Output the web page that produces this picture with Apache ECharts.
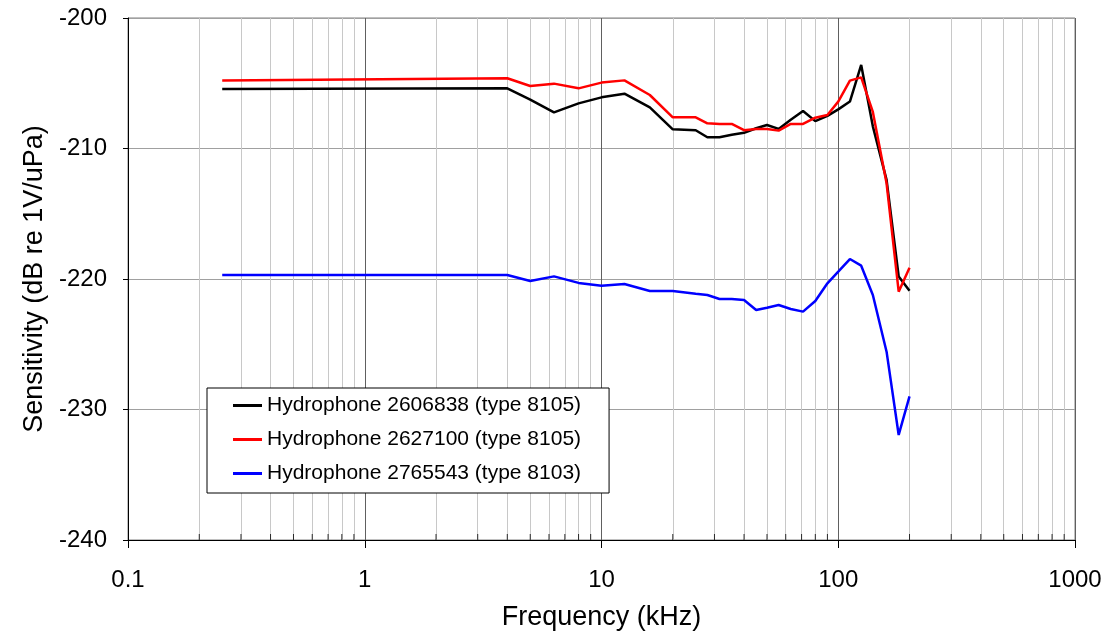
<!DOCTYPE html>
<html>
<head>
<meta charset="utf-8">
<script src="https://cdn.jsdelivr.net/npm/echarts@6/dist/echarts.min.js"></script>
<style>
  html, body { margin: 0; padding: 0; background: #fff; }
  #chart { width: 1110px; height: 637px; }
</style>
</head>
<body>
<div id="chart"></div>
<script>
// frequencies in kHz
const freqs = [0.25, 4, 5, 6.3, 8, 10, 12.5, 16, 20, 25, 28, 31.5, 35.5, 40, 45, 50, 56, 63, 71, 80, 90, 100, 112, 125, 140, 160, 180, 200];

const hydro2606838 = [-205.44, -205.39, -206.25, -207.23, -206.54, -206.08, -205.8, -206.85, -208.53, -208.6, -209.14, -209.14, -208.95, -208.8,
  -208.45, -208.2, -208.5, -207.8, -207.13, -207.9, -207.5, -207.0, -206.4, -203.6, -208.3, -212.4, -219.8, -220.9];

const hydro2627100 = [-204.78, -204.62, -205.21, -205.03, -205.39, -204.95, -204.78, -205.9, -207.61, -207.61, -208.07, -208.12, -208.12, -208.6,
  -208.5, -208.5, -208.63, -208.12, -208.12, -207.64, -207.43, -206.41, -204.8, -204.55, -207.2, -212.67, -220.97, -219.13];

const hydro2765543 = [-219.69, -219.7, -220.15, -219.8, -220.3, -220.51, -220.38, -220.92, -220.92, -221.13, -221.23, -221.53, -221.53, -221.61,
  -222.38, -222.2, -221.99, -222.3, -222.5, -221.69, -220.33, -219.44, -218.47, -218.98, -221.23, -225.57, -231.95, -229.0];

const seriesNames = ['Hydrophone 2606838 (type 8105)', 'Hydrophone 2627100 (type 8105)', 'Hydrophone 2765543 (type 8103)'];
const seriesColors = ['#000000', '#ff0000', '#0000ff'];

// minor log gridlines 2..9 in each decade
const minorLines = [0.2, 0.3, 0.4, 0.5, 0.6, 0.7, 0.8, 0.9, 2, 3, 4, 5, 6, 7, 8, 9,
  20, 30, 40, 50, 60, 70, 80, 90, 200, 300, 400, 500, 600, 700, 800, 900];

const yMin = -240, yMax = -200;
const font = 'Arial, "Liberation Sans", sans-serif';

const pairs = (ys) => freqs.map((f, i) => [f, ys[i]]);

const chart = echarts.init(document.getElementById('chart'));

const option = {
  animation: false,
  backgroundColor: '#fff',
  textStyle: { fontFamily: font, color: '#000' },
  grid: { left: 128, right: 35, top: 18, bottom: 97, show: true, borderColor: '#808080', borderWidth: 1 },
  legend: {
    data: seriesNames,
    orient: 'vertical',
    left: 207,
    top: 388,
    icon: 'rect',
    itemWidth: 29,
    itemHeight: 3,
    itemGap: 13,
    padding: [7, 28, 9, 26],
    backgroundColor: '#fff',
    borderColor: '#000',
    borderWidth: 1,
    borderRadius: 0,
    textStyle: { fontSize: 21, color: '#000', fontFamily: font }
  },
  xAxis: {
    type: 'log',
    logBase: 10,
    min: 0.1,
    max: 1000,
    name: 'Frequency (kHz)',
    nameLocation: 'middle',
    nameGap: 64,
    nameTextStyle: { fontSize: 27, color: '#000', fontFamily: font },
    axisLine: { show: true, onZero: false, lineStyle: { color: '#000', width: 1 } },
    axisTick: { show: true, inside: false, length: 8, lineStyle: { color: '#000' } },
    axisLabel: {
      fontSize: 24, color: '#000', margin: 28, fontFamily: font,
      formatter: (v) => String(+v.toPrecision(6))
    },
    splitLine: { show: true, lineStyle: { color: '#606060', width: 1 } },
    minorTick: { show: false },
    minorSplitLine: { show: false }
  },
  yAxis: {
    type: 'value',
    min: yMin,
    max: yMax,
    interval: 10,
    name: 'Sensitivity (dB re 1V/uPa)',
    nameLocation: 'middle',
    nameGap: 80,
    nameTextStyle: { fontSize: 27, color: '#000', fontFamily: font },
    axisLine: { show: true, lineStyle: { color: '#000', width: 1 } },
    axisTick: { show: true, inside: false, length: 5, lineStyle: { color: '#000' } },
    axisLabel: { fontSize: 24, color: '#000', margin: 21, fontFamily: font },
    splitLine: { show: true, lineStyle: { color: '#a0a0a0', width: 1 } }
  },
  series: [
    {
      name: 'minor-grid',
      type: 'scatter',
      data: minorLines.map((f) => [f, yMin]),
      symbol: 'rect',
      symbolSize: [1, 6],
      symbolOffset: [0, -3],
      itemStyle: { color: '#000' },
      silent: true,
      z: 3,
      markLine: {
        silent: true,
        symbol: ['none', 'none'],
        label: { show: false },
        lineStyle: { color: '#c8c8c8', width: 1, type: 'solid' },
        data: minorLines.map((f) => ({ xAxis: f })),
        z: 1
      }
    },
    ...[hydro2606838, hydro2627100, hydro2765543].map((ys, i) => ({
      name: seriesNames[i],
      type: 'line',
      data: pairs(ys),
      symbol: 'none',
      showSymbol: false,
      lineStyle: { color: seriesColors[i], width: 2.5 },
      itemStyle: { color: seriesColors[i] },
      z: 5 + i
    }))
  ]
};

chart.setOption(option);
</script>
</body>
</html>
